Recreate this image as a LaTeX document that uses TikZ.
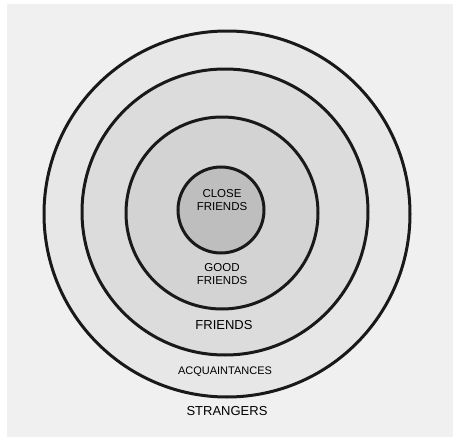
\documentclass[tikz,border=0pt]{standalone}
\usepackage{fontspec}
\setmainfont{Liberation Sans}
\usetikzlibrary{positioning}
\definecolor{panel}{HTML}{F0F0F0}
\definecolor{acqfill}{HTML}{E7E7E7}
\definecolor{frfill}{HTML}{DCDCDC}
\definecolor{goodfill}{HTML}{D3D3D3}
\definecolor{closefill}{HTML}{BEBEBE}

\begin{document}
\begin{tikzpicture}[x=1pt,y=-1pt,
 ring/.style={circle,draw=black!90,line width=3pt,inner sep=0pt},
 lbl/.style={font=\fontsize{12}{13.5}\selectfont,align=center,inner sep=1pt}]
\useasboundingbox (0,0) rectangle (453,439);
\fill[white] (0,0) rectangle (453,439);
\fill[panel] (7,4) rectangle (453,437);
\node[ring,fill=acqfill,minimum size=366pt] (acq) at (227,214) {};
\node[ring,fill=frfill,minimum size=286pt] (fr) at (225,212) {};
\node[ring,fill=goodfill,minimum size=192pt] (good) at (222,213) {};
\node[ring,fill=closefill,minimum size=86pt] (close) at (221,210) {};
\node[lbl,font=\fontsize{11.5}{13.5}\selectfont] (closelbl) at (222,200) {CLOSE\\FRIENDS};
\node[lbl,font=\fontsize{11.5}{13.5}\selectfont] (goodlbl) at (222,274) {GOOD\\FRIENDS};
\node[lbl,font=\fontsize{13}{15}\selectfont] (frlbl) at (224,325) {FRIENDS};
\node[lbl,font=\fontsize{11}{13}\selectfont] (acqlbl) at (225,372) {ACQUAINTANCES};
\node[lbl,font=\fontsize{13}{15}\selectfont,below=7pt of acq] (strlbl) {STRANGERS};
\end{tikzpicture}
\end{document}
